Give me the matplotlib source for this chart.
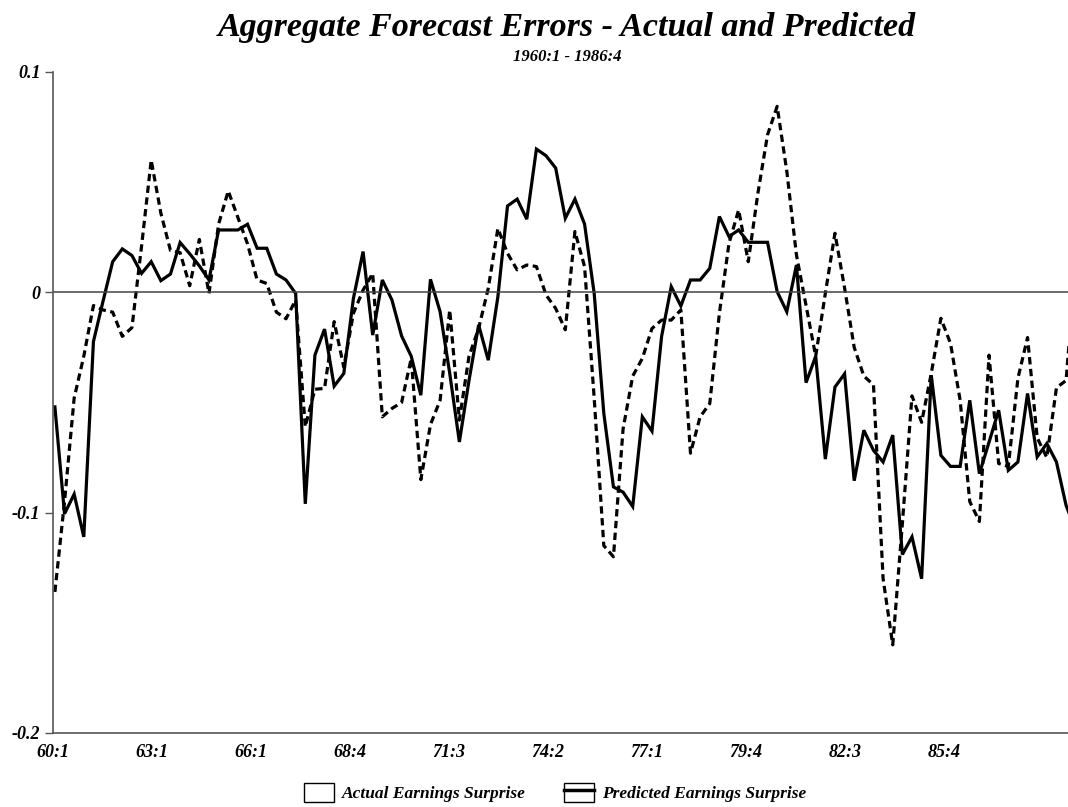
import numpy as np
import matplotlib
matplotlib.use("Agg")
import matplotlib.pyplot as plt
from matplotlib.patches import Patch
from matplotlib.lines import Line2D
from matplotlib.legend_handler import HandlerTuple

# quarterly forecast errors, 1960:1 onwards
actual = [
    -0.136, -0.095, -0.048, -0.029, -0.006, -0.008, -0.009, -0.020, -0.016, 0.021,
    0.060, 0.036, 0.019, 0.018, 0.003, 0.024, -0.0005, 0.031, 0.046, 0.034,
    0.022, 0.0056, 0.004, -0.009, -0.012, -0.0035, -0.061, -0.044, -0.0436, -0.0133,
    -0.034, -0.0095, 0.001, 0.0086, -0.0565, -0.0527, -0.050, -0.030, -0.085, -0.060,
    -0.049, -0.008, -0.058, -0.029, -0.0164, 0.0018, 0.029, 0.0177, 0.0102, 0.0124,
    0.0117, -0.0012, -0.0073, -0.017, 0.0276, 0.0117, -0.048, -0.115, -0.120, -0.062,
    -0.038, -0.030, -0.0164, -0.0126, -0.0126, -0.008, -0.073, -0.0565, -0.0505, -0.0095,
    0.0223, 0.0374, 0.0139, 0.045, 0.0715, 0.0844, 0.055, 0.017, -0.006, -0.029,
    -0.0005, 0.0268, 0.002, -0.025, -0.038, -0.042, -0.130, -0.160, -0.105, -0.047,
    -0.059, -0.0368, -0.0118, -0.0232, -0.049, -0.095, -0.104, -0.0285, -0.0777, -0.079,
    -0.039, -0.0205, -0.066, -0.075, -0.0433, -0.040, 0.014,
]
predicted = [
    -0.052, -0.1005, -0.0916, -0.111, -0.0224, -0.004, 0.0139, 0.0197, 0.0167, 0.0086,
    0.0139, 0.0053, 0.0083, 0.0226, 0.0175, 0.012, 0.0056, 0.0283, 0.0283, 0.0283,
    0.0309, 0.020, 0.020, 0.0083, 0.0056, -0.0005, -0.096, -0.0285, -0.0167, -0.0426,
    -0.0368, -0.0027, 0.0185, -0.0194, 0.0056, -0.0035, -0.0198, -0.029, -0.0467, 0.0059,
    -0.0088, -0.0368, -0.0679, -0.040, -0.0148, -0.0308, -0.002, 0.0392, 0.0423, 0.0332,
    0.065, 0.062, 0.0564, 0.0336, 0.0423, 0.031, -0.0005, -0.055, -0.0883, -0.0907,
    -0.0972, -0.0565, -0.063, -0.020, 0.0026, -0.0062, 0.0056, 0.0056, 0.0109, 0.0344,
    0.0253, 0.0283, 0.0227, 0.0227, 0.0227, 0.0003, -0.0088, 0.0124, -0.041, -0.029,
    -0.0757, -0.043, -0.037, -0.0855, -0.0626, -0.0717, -0.077, -0.0648, -0.119, -0.111,
    -0.130, -0.0376, -0.074, -0.079, -0.079, -0.049, -0.0823, -0.068, -0.0535, -0.0808,
    -0.077, -0.0459, -0.0747, -0.0686, -0.077, -0.0967, -0.108,
]
tick_labels = ["60:1", "63:1", "66:1", "68:4", "71:3", "74:2", "77:1", "79:4", "82:3", "85:4"]
y_ticks = [0.1, 0.0, -0.1, -0.2]
y_tick_labels = ["0.1", "0", "-0.1", "-0.2"]

serif = "Liberation Serif"
axis_grey = "#555555"

quarters = np.arange(len(actual))

fig = plt.figure(figsize=(10.68, 8.07), dpi=100)
ax = fig.add_axes([0.0496, 0.0917, 0.9504, 0.8191])

ax.plot(quarters, actual, color="black", lw=2.3, linestyle=(0, (2.3, 1.4)))
ax.plot(quarters, predicted, color="black", lw=2.3, solid_joinstyle="miter")
ax.axhline(0, color="#444444", lw=1.1)

ax.set_xlim(-0.2, 105.2)
ax.set_ylim(-0.2, 0.1)

# tick labels are spaced evenly along the axis, as in the original
ax.set_xticks(np.linspace(-0.2, 92.3, len(tick_labels)))
ax.set_xticklabels(tick_labels)
ax.set_yticks(y_ticks)
ax.set_yticklabels(y_tick_labels)
ax.tick_params(axis="x", length=0, pad=8)
ax.tick_params(axis="y", length=6, width=1, color=axis_grey, pad=3)
for lab in ax.get_xticklabels() + ax.get_yticklabels():
    lab.set_fontfamily(serif)
    lab.set_fontweight("bold")
    lab.set_fontstyle("italic")
    lab.set_fontsize(13)

for side in ["top", "right"]:
    ax.spines[side].set_visible(False)
for side in ["left", "bottom"]:
    ax.spines[side].set_color(axis_grey)
    ax.spines[side].set_linewidth(1.2)

fig.text(0.531, 0.966, "Aggregate Forecast Errors - Actual and Predicted",
         ha="center", va="center", fontfamily=serif, fontweight="bold",
         fontstyle="italic", fontsize=24.5)
fig.text(0.531, 0.929, "1960:1 - 1986:4", ha="center", va="center",
         fontfamily=serif, fontweight="bold", fontstyle="italic", fontsize=12)

# legend boxes like the original software draws them
box_a = Patch(facecolor="white", edgecolor="black", lw=1)
box_p = (Patch(facecolor="white", edgecolor="black", lw=1),
         Line2D([0], [0], color="black", lw=2.5))
fig.legend([box_a, box_p], ["Actual Earnings Surprise", "Predicted Earnings Surprise"],
           handler_map={tuple: HandlerTuple(ndivide=1, pad=0)},
           loc="center", bbox_to_anchor=(0.52, 0.018), ncol=2, frameon=False,
           handlelength=1.7, handleheight=1.3, handletextpad=0.5, columnspacing=2.2,
           prop={"family": serif, "weight": "bold", "style": "italic", "size": 12.5})

fig.savefig("out.png", dpi=100)
